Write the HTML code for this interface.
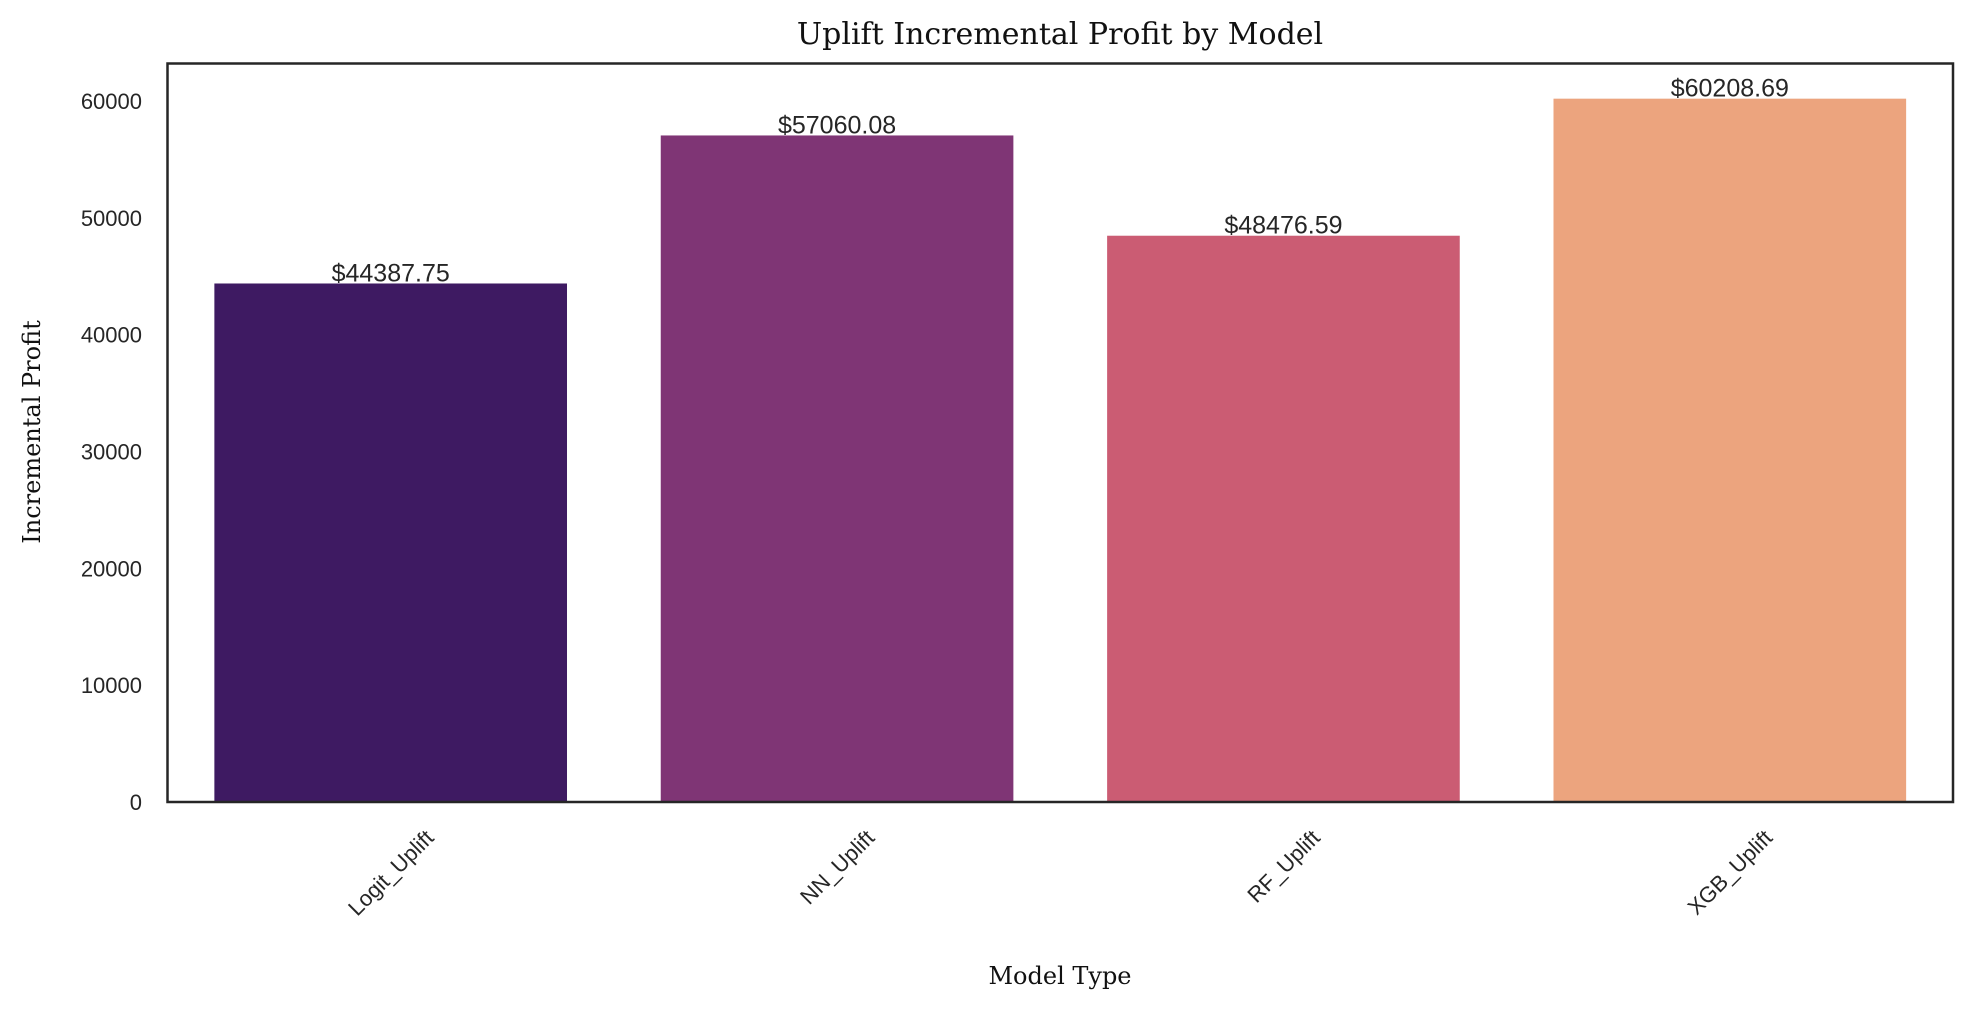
<!DOCTYPE html>
<html><head><meta charset="utf-8"><style>
html,body{margin:0;padding:0;background:#fff;}
svg{display:block;}
</style></head><body>
<svg id="chart" width="1972" height="1014" xmlns="http://www.w3.org/2000/svg">
<text x="1060" y="44" text-anchor="middle" font-family="DejaVu Serif, serif" font-size="30" fill="#111">Uplift Incremental Profit by Model</text>
<text transform="translate(40,432) rotate(-90)" text-anchor="middle" font-family="DejaVu Serif, serif" font-size="24" fill="#111">Incremental Profit</text>
<text x="1060" y="984" text-anchor="middle" font-family="DejaVu Serif, serif" font-size="24" fill="#111">Model Type</text>
<g id="bars"></g>
<g id="yticks"></g>
<g id="xticks"></g>
<rect x="167.5" y="63.5" width="1785.5" height="738.5" fill="none" stroke="#262626" stroke-width="2.5"/>
</svg>
<script>
const categories = ["Logit_Uplift","NN_Uplift","RF_Uplift","XGB_Uplift"];
const values = [44387.75,57060.08,48476.59,60208.69];
const valueLabels = ["$44387.75","$57060.08","$48476.59","$60208.69"];
const yTicks = [0,10000,20000,30000,40000,50000,60000];
const colors = ["#3e1a62","#7f3575","#cb5c73","#eca47e"];
const NS="http://www.w3.org/2000/svg";
const L=167.5,R=1953,T=63.5,B=802;
const yMin=0,yMax=63220;
function y(v){return B-(v-yMin)/(yMax-yMin)*(B-T);}
const band=(R-L)/categories.length;
function xc(i){return L+band*(i+0.5);}
const bw=band*0.79;
const gb=document.getElementById('bars'),gy=document.getElementById('yticks'),gx=document.getElementById('xticks');
function mk(tag,attrs,parent,txt){const e=document.createElementNS(NS,tag);for(const k in attrs)e.setAttribute(k,attrs[k]);if(txt!==undefined)e.textContent=txt;parent.appendChild(e);return e;}
values.forEach((v,i)=>{
  const r=mk('rect',{x:xc(i)-bw/2,y:y(v),width:bw,height:B-y(v),fill:colors[i]},gb);
  
  
  const t=mk('text',{x:xc(i),y:y(v)-2,'text-anchor':'middle','font-family':'Liberation Sans, Arial, sans-serif','font-size':'25',fill:'#262626'},gb,valueLabels[i]);
  
  
});
yTicks.forEach(v=>{
  const t=mk('text',{x:142,y:y(v)+8,'text-anchor':'end','font-family':'Liberation Sans, Arial, sans-serif','font-size':'22',fill:'#262626'},gy,String(v));
  
  
});
categories.forEach((c,i)=>{
  const t=mk('text',{x:0,y:0,'text-anchor':'middle','font-family':'Liberation Sans, Arial, sans-serif','font-size':'22',fill:'#262626'},gx,c);
  
  
  const w=t.getComputedTextLength(),h=22;
  const bh=(w+h)*Math.SQRT1_2;
  const cy=826+bh/2;
  t.setAttribute('transform','translate('+xc(i)+','+cy+') rotate(-45) translate(0,'+(h*0.35)+')');
});
</script>
</body></html>
